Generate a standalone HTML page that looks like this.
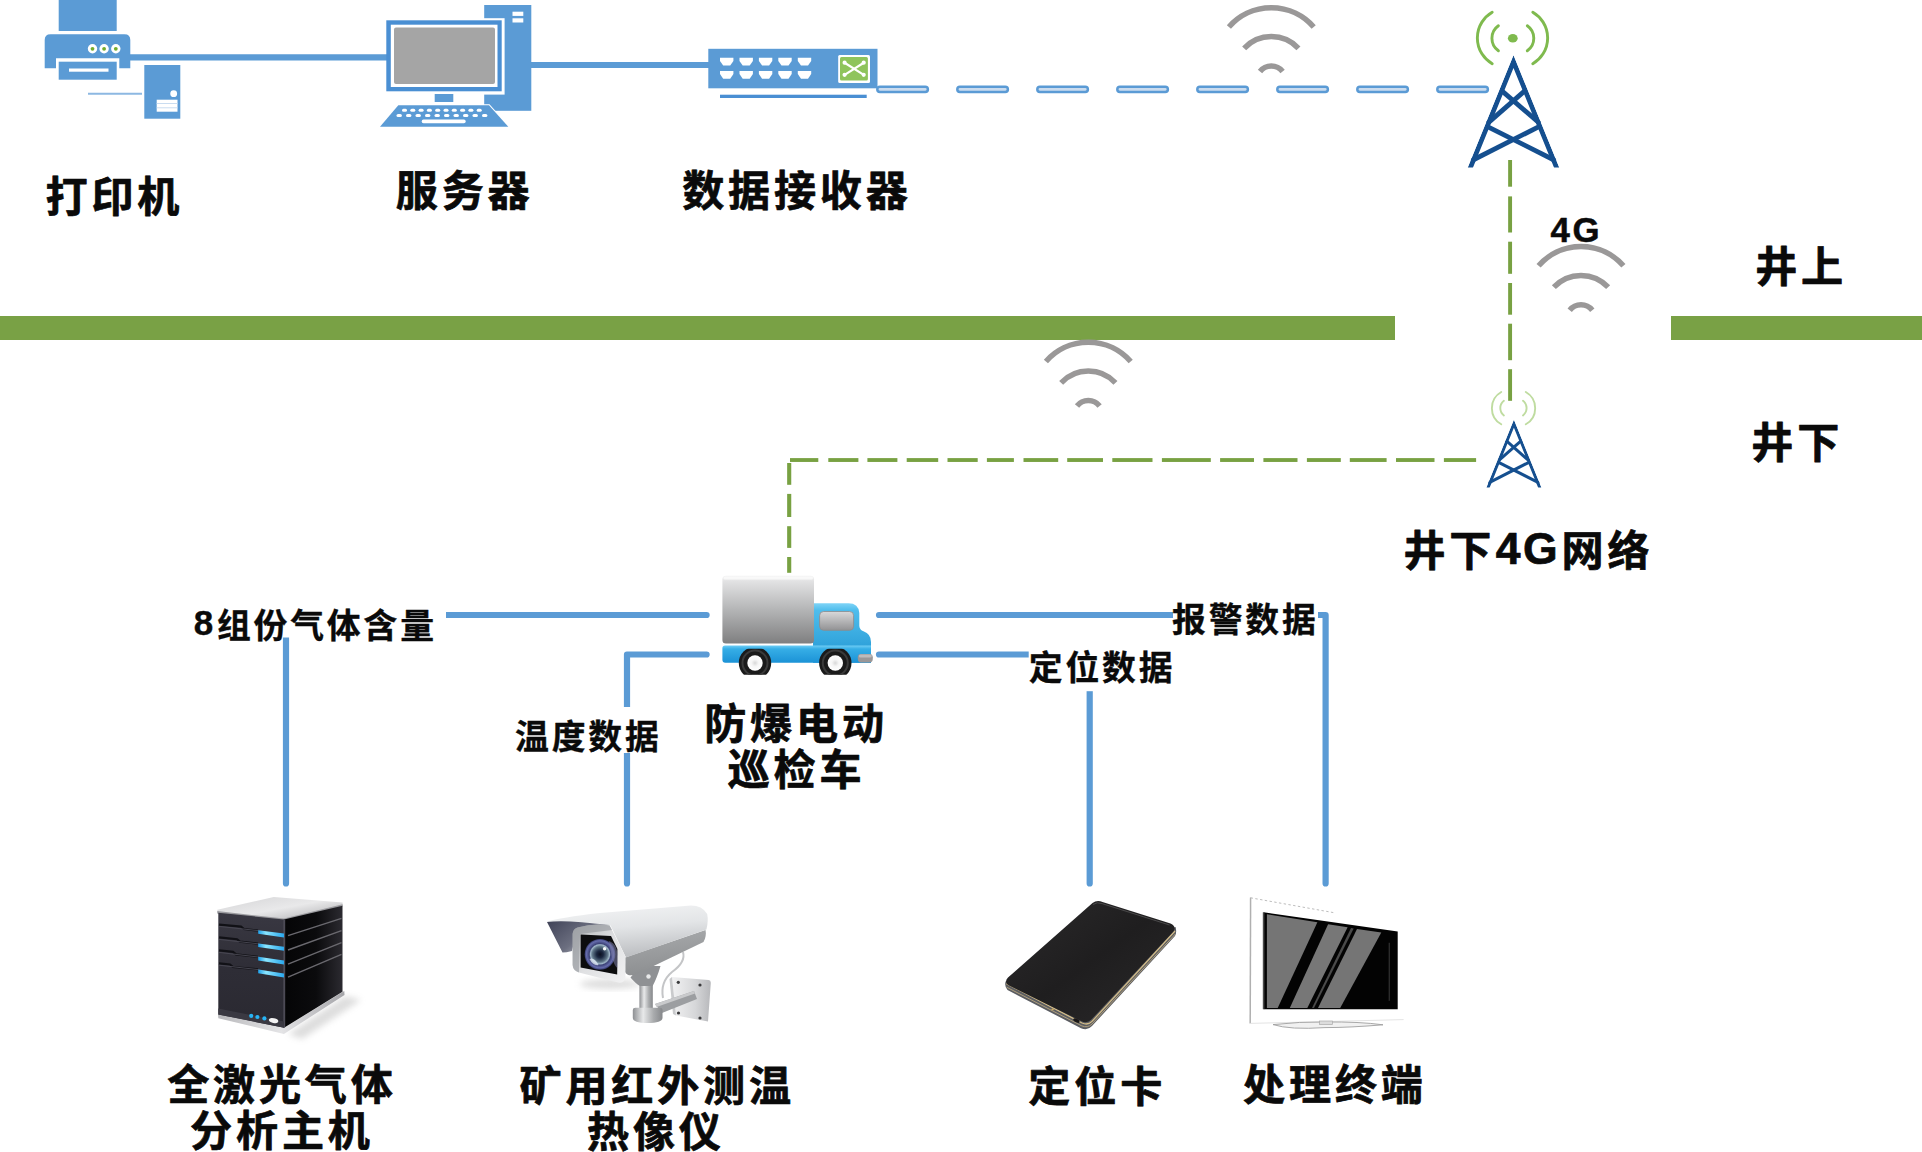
<!DOCTYPE html>
<html lang="zh">
<head>
<meta charset="utf-8">
<title>系统拓扑图</title>
<style>
html,body{margin:0;padding:0;background:#fff;}
body{width:1922px;height:1152px;overflow:hidden;position:relative;font-family:"Liberation Sans","Noto Sans CJK SC",sans-serif;}
svg{position:absolute;left:0;top:0;}
.t{font-family:"Liberation Sans","Noto Sans CJK SC",sans-serif;font-weight:700;fill:#0a0a0a;stroke:#0a0a0a;stroke-width:0.7px;stroke-linejoin:round;}
.big{font-size:42.1px;}
.mid{font-size:33.8px;stroke-width:0.35px;}
.g4{font-size:34.8px;stroke-width:0.5px;}
</style>
</head>
<body>
<svg width="1922" height="1152" viewBox="0 0 1922 1152">
<defs>
<linearGradient id="gBox" x1="0" y1="0" x2="0" y2="1">
<stop offset="0" stop-color="#f4f4f4"/><stop offset="0.08" stop-color="#e2e2e3"/><stop offset="0.5" stop-color="#b4b5b6"/><stop offset="1" stop-color="#7f7f80"/>
</linearGradient>
<linearGradient id="gCab" x1="0" y1="0" x2="0" y2="1">
<stop offset="0" stop-color="#7fd4f7"/><stop offset="0.12" stop-color="#4fbdec"/><stop offset="0.6" stop-color="#36a8de"/><stop offset="1" stop-color="#1f93d2"/>
</linearGradient>
<linearGradient id="gChassis" x1="0" y1="0" x2="0" y2="1">
<stop offset="0" stop-color="#6fcdf5"/><stop offset="0.2" stop-color="#36aee6"/><stop offset="1" stop-color="#1b92d6"/>
</linearGradient>
<linearGradient id="gWin" x1="0" y1="0" x2="0" y2="1">
<stop offset="0" stop-color="#d9d9da"/><stop offset="1" stop-color="#929294"/>
</linearGradient>
<radialGradient id="gHub" cx="0.5" cy="0.5" r="0.5">
<stop offset="0" stop-color="#d8d8d8"/><stop offset="0.45" stop-color="#f6f6f6"/><stop offset="1" stop-color="#ffffff"/>
</radialGradient>
<clipPath id="clipWheel"><rect x="700" y="648.8" width="200" height="26"/></clipPath>
<filter id="blur1" x="-20%" y="-20%" width="140%" height="140%"><feGaussianBlur stdDeviation="1.2"/></filter>
<filter id="blur2" x="-30%" y="-30%" width="160%" height="160%"><feGaussianBlur stdDeviation="3"/></filter>
<filter id="blur05" x="-10%" y="-10%" width="120%" height="120%"><feGaussianBlur stdDeviation="0.5"/></filter>
<linearGradient id="gSrvTop" x1="0" y1="0" x2="1" y2="1">
<stop offset="0" stop-color="#d4d4d6"/><stop offset="0.5" stop-color="#e9e9ea"/><stop offset="1" stop-color="#a9a9ac"/>
</linearGradient>
<linearGradient id="gSrvFront" x1="0" y1="0" x2="0" y2="1">
<stop offset="0" stop-color="#393842"/><stop offset="0.5" stop-color="#2e2d36"/><stop offset="1" stop-color="#2a2931"/>
</linearGradient>
<linearGradient id="gSrvSide" x1="0" y1="0" x2="1" y2="0">
<stop offset="0" stop-color="#050506"/><stop offset="0.55" stop-color="#0b0b0d"/><stop offset="1" stop-color="#2b2a30"/>
</linearGradient>
<linearGradient id="gLed" x1="0" y1="0" x2="1" y2="0">
<stop offset="0" stop-color="#1e9fe8"/><stop offset="0.3" stop-color="#8be6ff"/><stop offset="1" stop-color="#2aa8ee"/>
</linearGradient>
<linearGradient id="gSrvBase" x1="0" y1="0" x2="1" y2="0">
<stop offset="0" stop-color="#b9b9bc"/><stop offset="0.5" stop-color="#e4e4e6"/><stop offset="1" stop-color="#a4a4a8"/>
</linearGradient>
<linearGradient id="gCamTop" x1="0" y1="0" x2="0.25" y2="1">
<stop offset="0" stop-color="#f4f5f6"/><stop offset="0.5" stop-color="#e3e5e7"/><stop offset="1" stop-color="#bfc1c4"/>
</linearGradient>
<linearGradient id="gCamLow" x1="0" y1="0" x2="0.2" y2="1">
<stop offset="0" stop-color="#a9abad"/><stop offset="1" stop-color="#8d8f91"/>
</linearGradient>
<linearGradient id="gCamVisor" x1="0" y1="0" x2="1" y2="0.6">
<stop offset="0" stop-color="#3f4257"/><stop offset="0.6" stop-color="#6c6f80"/><stop offset="1" stop-color="#b9bbc2"/>
</linearGradient>
<linearGradient id="gCamFace" x1="0" y1="0" x2="1" y2="1">
<stop offset="0" stop-color="#b3b5b8"/><stop offset="0.5" stop-color="#dfe0e2"/><stop offset="1" stop-color="#f2f2f3"/>
</linearGradient>
<radialGradient id="gLens" cx="0.5" cy="0.5" r="0.5">
<stop offset="0" stop-color="#0b1020"/><stop offset="0.22" stop-color="#1b2740"/><stop offset="0.5" stop-color="#5f7688"/><stop offset="0.62" stop-color="#9fb6c8"/><stop offset="0.7" stop-color="#3d4378"/><stop offset="0.88" stop-color="#666cad"/><stop offset="1" stop-color="#34396c"/>
</radialGradient>
<linearGradient id="gPole" x1="0" y1="0" x2="1" y2="0">
<stop offset="0" stop-color="#8e9093"/><stop offset="0.35" stop-color="#e8e9ea"/><stop offset="0.7" stop-color="#a9abad"/><stop offset="1" stop-color="#86888b"/>
</linearGradient>
<linearGradient id="gPlate" x1="0" y1="0" x2="1" y2="0">
<stop offset="0" stop-color="#f1f1f2"/><stop offset="0.6" stop-color="#d6d7d9"/><stop offset="1" stop-color="#b7b8bb"/>
</linearGradient>
<linearGradient id="gCard" x1="0" y1="0" x2="1" y2="1">
<stop offset="0" stop-color="#2b2a2b"/><stop offset="0.5" stop-color="#1f1e1f"/><stop offset="1" stop-color="#2a292a"/>
</linearGradient>
<clipPath id="clipScreen"><path d="M1263.6 912.3 L1397.7 931.5 L1397.7 1009.2 L1263.6 1009.2 Z"/></clipPath>

</defs>
<!-- green divider -->
<g id="divider">
<rect x="0" y="316" width="1395" height="24" fill="#79a145"/>
<rect x="1671" y="316" width="251" height="24" fill="#79a145"/>
</g>
<g stroke="#5b9bd5" stroke-width="6.2" fill="none" stroke-linecap="butt">
<path d="M129 57.3 H388"/>
<path d="M530 65 H710"/>
</g>
<path d="M88 93.7 H142" stroke="#8db8e2" stroke-width="2" fill="none"/>
<g fill="#cbdcef" stroke="#5b9bd5" stroke-width="2.5">
<rect x="877.3" y="86.65" width="50.6" height="5.3" rx="2.65" ry="2.65"/>
<rect x="957.3" y="86.65" width="50.6" height="5.3" rx="2.65" ry="2.65"/>
<rect x="1037.3" y="86.65" width="50.6" height="5.3" rx="2.65" ry="2.65"/>
<rect x="1117.3" y="86.65" width="50.6" height="5.3" rx="2.65" ry="2.65"/>
<rect x="1197.3" y="86.65" width="50.6" height="5.3" rx="2.65" ry="2.65"/>
<rect x="1277.3" y="86.65" width="50.6" height="5.3" rx="2.65" ry="2.65"/>
<rect x="1357.3" y="86.65" width="50.6" height="5.3" rx="2.65" ry="2.65"/>
<rect x="1437.3" y="86.65" width="50.6" height="5.3" rx="2.65" ry="2.65"/>
</g>
<g stroke="#5b9bd5" stroke-width="6.2" fill="none" stroke-linecap="round" stroke-linejoin="round">
<path d="M706.6 615 H286 V883.4"/>
<path d="M706.6 654.5 H627 V883.4"/>
<path d="M879 615 H1325.6 V883.4"/>
<path d="M879 654.5 H1089.7 V883.4"/>
</g>
<g fill="#78a142">
<rect x="1508.15" y="160" width="3.9" height="26.7"/>
<rect x="1508.15" y="196.4" width="3.9" height="36.1"/>
<rect x="1508.15" y="241.7" width="3.9" height="32.1"/>
<rect x="1508.15" y="283" width="3.9" height="31.7"/>
<rect x="1508.15" y="323.7" width="3.9" height="36.5"/>
<rect x="1508.15" y="369.2" width="3.9" height="31.6"/>
<rect x="790.0" y="458.1" width="28.3" height="3.85"/>
<rect x="828.3" y="458.1" width="30.1" height="3.85"/>
<rect x="867.4" y="458.1" width="30.0" height="3.85"/>
<rect x="906.7" y="458.1" width="31.5" height="3.85"/>
<rect x="947.5" y="458.1" width="30.2" height="3.85"/>
<rect x="986.9" y="458.1" width="27.0" height="3.85"/>
<rect x="1023.5" y="458.1" width="34.7" height="3.85"/>
<rect x="1067.2" y="458.1" width="35.8" height="3.85"/>
<rect x="1112.3" y="458.1" width="40.2" height="3.85"/>
<rect x="1161.9" y="458.1" width="48.9" height="3.85"/>
<rect x="1220.1" y="458.1" width="33.9" height="3.85"/>
<rect x="1263.4" y="458.1" width="34.1" height="3.85"/>
<rect x="1306.9" y="458.1" width="33.9" height="3.85"/>
<rect x="1349.8" y="458.1" width="36.8" height="3.85"/>
<rect x="1396" y="458.1" width="38.5" height="3.85"/>
<rect x="1443.9" y="458.1" width="32.2" height="3.85"/>
<rect x="787.15" y="463" width="4.1" height="21.8"/>
<rect x="787.15" y="493.9" width="4.1" height="23.1"/>
<rect x="787.15" y="526.2" width="4.1" height="21.7"/>
<rect x="787.15" y="557" width="4.1" height="15.8"/>
</g>
<!-- printer -->
<g id="printer" fill="#5b9bd5">
<rect x="58.7" y="-2" width="58" height="33"/>
<path d="M44.7 68.3 V40 Q44.7 34.2 50.5 34.2 H124.5 Q130.3 34.2 130.3 40 V68.3 H119.3 V58.3 H56 V68.3 Z"/>
<rect x="58.7" y="61.7" width="58" height="18"/>
<rect x="69" y="68.5" width="39.5" height="3.2" fill="#fff"/>
<circle cx="92.5" cy="48.8" r="4.7" fill="#fff"/>
<circle cx="104.1" cy="48.8" r="4.7" fill="#fff"/>
<circle cx="115.8" cy="48.8" r="4.7" fill="#fff"/>
<circle cx="92.5" cy="48.8" r="1.9" fill="#74ac2a"/>
<circle cx="104.1" cy="48.8" r="1.9" fill="#74ac2a"/>
<circle cx="115.8" cy="48.8" r="1.9" fill="#74ac2a"/>
</g>
<!-- small tower pc -->
<g id="minipc">
<rect x="144.3" y="65" width="36" height="53.7" fill="#5b9bd5"/>
<circle cx="173.7" cy="93.7" r="3.4" fill="#fff"/>
<rect x="156.7" y="99.7" width="20.8" height="12" fill="#fff"/>
<rect x="156.7" y="103" width="20.8" height="1" fill="#c9dcf0"/>
<rect x="156.7" y="107.3" width="20.8" height="1" fill="#c9dcf0"/>
</g>
<!-- desktop computer -->
<g id="computer">
<rect x="484.2" y="5" width="47.1" height="105.8" fill="#5b9bd5"/>
<rect x="512.5" y="11.7" width="10.8" height="4.2" fill="#fff"/>
<rect x="512.5" y="18.3" width="10.8" height="4.2" fill="#fff"/>
<rect x="480" y="18.2" width="24.6" height="76.4" fill="#fff"/>
<rect x="386.3" y="20.3" width="115.4" height="71" fill="#4a8fd3"/>
<rect x="390.8" y="24.7" width="106.7" height="62.3" fill="#fff"/>
<rect x="394" y="27.5" width="101" height="56.5" rx="2" fill="#a5a5a5"/>
<rect x="434.7" y="94" width="18.6" height="8" fill="#5b9bd5"/>
<path d="M398.3 105.3 H489 L508.3 126.7 H380 Z" fill="#5b9bd5" stroke="#fff" stroke-width="2.2" paint-order="stroke"/>
<g fill="#fff">
<rect x="402" y="108.7" width="5" height="3" rx="1.5"/><rect x="410.3" y="108.7" width="5" height="3" rx="1.5"/><rect x="418.6" y="108.7" width="5" height="3" rx="1.5"/><rect x="426.9" y="108.7" width="5" height="3" rx="1.5"/><rect x="435.2" y="108.7" width="5" height="3" rx="1.5"/><rect x="443.5" y="108.7" width="5" height="3" rx="1.5"/><rect x="451.8" y="108.7" width="5" height="3" rx="1.5"/><rect x="460.1" y="108.7" width="5" height="3" rx="1.5"/><rect x="468.4" y="108.7" width="5" height="3" rx="1.5"/><rect x="476.7" y="108.7" width="5" height="3" rx="1.5"/>
<rect x="396.5" y="113.9" width="5.4" height="3.2" rx="1.6"/><rect x="406" y="113.9" width="5.4" height="3.2" rx="1.6"/><rect x="415.5" y="113.9" width="5.4" height="3.2" rx="1.6"/><rect x="425" y="113.9" width="5.4" height="3.2" rx="1.6"/><rect x="434.5" y="113.9" width="5.4" height="3.2" rx="1.6"/><rect x="444" y="113.9" width="5.4" height="3.2" rx="1.6"/><rect x="453.5" y="113.9" width="5.4" height="3.2" rx="1.6"/><rect x="463" y="113.9" width="5.4" height="3.2" rx="1.6"/><rect x="472.5" y="113.9" width="5.4" height="3.2" rx="1.6"/><rect x="482" y="113.9" width="5.4" height="3.2" rx="1.6"/>
<rect x="421.7" y="119.6" width="44" height="3.6" rx="1.8"/>
</g>
</g>
<!-- switch / data receiver -->
<g id="switch">
<rect x="708.3" y="48.8" width="169.2" height="39.5" fill="#5b9bd5"/>
<rect x="720" y="94.7" width="146.7" height="3.3" fill="#4a8fd3"/>
<g fill="#fff" id="ports">
<path d="M720 57.8 h13.4 v3.2 l-3.2 4.6 h-7 l-3.2 -4.6 z"/>
<path d="M739.5 57.8 h13.4 v3.2 l-3.2 4.6 h-7 l-3.2 -4.6 z"/>
<path d="M758.9 57.8 h13.4 v3.2 l-3.2 4.6 h-7 l-3.2 -4.6 z"/>
<path d="M778.3 57.8 h13.4 v3.2 l-3.2 4.6 h-7 l-3.2 -4.6 z"/>
<path d="M797.8 57.8 h13.4 v3.2 l-3.2 4.6 h-7 l-3.2 -4.6 z"/>
<path d="M720 70.9 h13.4 v3.2 l-3.2 4.6 h-7 l-3.2 -4.6 z"/>
<path d="M739.5 70.9 h13.4 v3.2 l-3.2 4.6 h-7 l-3.2 -4.6 z"/>
<path d="M758.9 70.9 h13.4 v3.2 l-3.2 4.6 h-7 l-3.2 -4.6 z"/>
<path d="M778.3 70.9 h13.4 v3.2 l-3.2 4.6 h-7 l-3.2 -4.6 z"/>
<path d="M797.8 70.9 h13.4 v3.2 l-3.2 4.6 h-7 l-3.2 -4.6 z"/>
</g>
<rect x="838.2" y="54.9" width="31.8" height="28" rx="1.5" fill="#fff"/>
<rect x="840" y="57" width="27.9" height="23.6" rx="1.5" fill="#8fc45c"/>
<g stroke="#fff" stroke-width="2.2" stroke-linecap="round" fill="none">
<path d="M845 63 L863.4 74.6"/><path d="M863.4 63 L845 74.6"/>
</g>
<g fill="#fff">
<circle cx="844.6" cy="62.7" r="2.1"/><circle cx="863.7" cy="62.7" r="2.1"/><circle cx="844.6" cy="74.8" r="2.1"/><circle cx="863.7" cy="74.8" r="2.1"/>
</g>
</g>

<g transform="translate(1271.3 7.8)" fill="none" stroke="#9a9898" stroke-width="5.5" stroke-linecap="butt"><path d="M-42.4 19.2 A56.4 56.4 0 0 1 42.4 19.2"/><path d="M-27.15 40.6 A37.1 37.1 0 0 1 27.15 40.6"/><path d="M-11.3 63.7 A14.4 14.4 0 0 1 11.3 63.7"/></g>
<g transform="translate(1581 246.6)" fill="none" stroke="#9a9898" stroke-width="5.5" stroke-linecap="butt"><path d="M-42.4 19.2 A56.4 56.4 0 0 1 42.4 19.2"/><path d="M-27.15 40.6 A37.1 37.1 0 0 1 27.15 40.6"/><path d="M-11.3 63.7 A14.4 14.4 0 0 1 11.3 63.7"/></g>
<g transform="translate(1088.3 342.3)" fill="none" stroke="#9a9898" stroke-width="5.5" stroke-linecap="butt"><path d="M-42.4 19.2 A56.4 56.4 0 0 1 42.4 19.2"/><path d="M-27.15 40.6 A37.1 37.1 0 0 1 27.15 40.6"/><path d="M-11.3 63.7 A14.4 14.4 0 0 1 11.3 63.7"/></g>
<!-- big tower -->
<clipPath id="clipBig"><path d="M1513.5 54.9 L1467.7 167.6 L1559.3 167.6 Z"/></clipPath>
<clipPath id="clipSmall"><path d="M1513.9 419.6 L1486.3 487.6 L1541.5 487.6 Z"/></clipPath>
<g id="bigtower">
<g fill="none" stroke="#7fba4e" stroke-width="2.9" stroke-linecap="round">
<path d="M1498.4 25.8 A15.3 15.3 0 0 0 1498.4 50.8"/>
<path d="M1527.3 25.8 A15.3 15.3 0 0 1 1527.3 50.8"/>
<path d="M1492.2 12.2 A29.8 29.8 0 0 0 1492.2 63.75"/>
<path d="M1532.8 12.2 A29.8 29.8 0 0 1 1532.8 63.75"/>
</g>
<ellipse cx="1512.8" cy="38.3" rx="4.9" ry="4.3" fill="#7fba4e"/>
<g fill="none" stroke="#154f8f" stroke-width="4.8" stroke-linecap="butt" stroke-linejoin="miter" stroke-miterlimit="10" clip-path="url(#clipBig)">
<path d="M1467.35 175 L1513.5 61.6 L1559.65 175"/>
<path d="M1501.6 90.6 L1539.8 123.4"/>
<path d="M1525 90.6 L1487.5 123.4"/>
<path d="M1487.5 126.6 L1556 161"/>
<path d="M1539 126.6 L1471 161"/>
</g>
</g>
<!-- small tower -->
<g id="smalltower">
<g fill="none" stroke="#bfdca0" stroke-width="1.9" stroke-linecap="round">
<path d="M1503.9 400.8 A9.2 9.2 0 0 0 1503.9 415.4"/>
<path d="M1523 400.8 A9.2 9.2 0 0 1 1523 415.4"/>
<path d="M1501.25 392 A18.6 18.6 0 0 0 1501.25 424.3"/>
<path d="M1525.8 392 A18.6 18.6 0 0 1 1525.8 424.3"/>
</g>
<g fill="none" stroke="#154f8f" stroke-width="3" stroke-linecap="butt" stroke-linejoin="miter" stroke-miterlimit="10" clip-path="url(#clipSmall)">
<path d="M1485.05 495 L1513.9 423.7 L1542.75 495"/>
<path d="M1505.9 440.4 L1528.9 460.7"/>
<path d="M1521.6 440.4 L1498.6 460.7"/>
<path d="M1498.6 462.3 L1539.5 483.2"/>
<path d="M1528.9 462.3 L1488.2 483.2"/>
</g>
</g>

<!-- truck -->
<g id="truck">
<!-- cab -->
<path d="M813 603.2 H848.5 Q858.6 603.2 859.3 613 V626 Q859.6 630 863.5 631.3 Q871 634 871 642 V662.8 H813 Z" fill="url(#gCab)"/>
<!-- chassis -->
<path d="M722.4 648 Q722.4 645.5 725 645.5 H871 V662.8 H725.4 Q722.4 662.8 722.4 659.8 Z" fill="url(#gChassis)"/>
<!-- box -->
<rect x="722.4" y="575.8" width="91.6" height="67.7" rx="3.5" fill="url(#gBox)"/>
<rect x="723.4" y="576.6" width="89.6" height="3" rx="1.5" fill="#fafafa" opacity="0.9"/>
<!-- window -->
<rect x="819.6" y="611.5" width="34" height="18.8" rx="4" fill="url(#gWin)" stroke="#8e8a8c" stroke-width="0.8"/>
<!-- bumper -->
<rect x="857.8" y="653.9" width="15" height="8.6" rx="3.4" fill="#9a9798"/>
<rect x="858.8" y="654.5" width="13" height="3" rx="1.5" fill="#bdbbbc"/>
<!-- wheels -->
<g clip-path="url(#clipWheel)">
<circle cx="755" cy="663" r="16.2" fill="#1a1a1a"/>
<circle cx="835.3" cy="663" r="16.2" fill="#1a1a1a"/>
<circle cx="755" cy="663" r="12.5" fill="none" stroke="#3a3a3a" stroke-width="2"/>
<circle cx="835.3" cy="663" r="12.5" fill="none" stroke="#3a3a3a" stroke-width="2"/>
<circle cx="755" cy="663" r="7.7" fill="url(#gHub)"/>
<circle cx="835.3" cy="663" r="7.7" fill="url(#gHub)"/>
</g>
</g>

<!-- gas analyzer host (server box) -->
<g id="serverbox">
<!-- shadow -->
<path d="M288 1034 L345 996 L361 1000 L302 1039 Z" fill="#9a9a9a" opacity="0.33" filter="url(#blur2)"/>
<!-- base plate -->
<path d="M218 1014 L218.3 1018.2 L283.9 1034 L344.5 995 L344.3 991 L283.9 1028 Z" fill="url(#gSrvBase)"/>
<!-- top face -->
<path d="M217.3 909.7 L273.75 897 L342.6 902.6 L342.6 906 L284 920 L217.3 913.5 Z" fill="url(#gSrvTop)"/>
<path d="M217.3 911 L284 918.6 L342.6 904.2 L342.6 906.2 L284 920.6 L217.3 913.5 Z" fill="#9b9b9f"/>
<!-- front face -->
<path d="M218.3 912.8 L284 919.4 L284 1027.8 L218.3 1014.4 Z" fill="url(#gSrvFront)"/>
<!-- side face -->
<path d="M284 919.4 L342.5 905.8 L342.5 991.7 L284 1027.8 Z" fill="url(#gSrvSide)"/>
<path d="M283.3 919.4 L285.2 919.4 L285.2 1027.2 L283.3 1027.8 Z" fill="#4c4a55"/>
<!-- front slot grooves -->
<g stroke="#111116" stroke-width="2.2" fill="none">
<path d="M219 924.6 L241 926.6 L244 929 L258 930.5"/>
<path d="M219 937.4 L237 939.2 L240 941.6 L258 943.6"/>
<path d="M219 950.4 L233 951.8 L236 954.4 L258 956.8"/>
<path d="M219 963.4 L230 964.5 L233 967 L258 969.4"/>
</g>
<g stroke="#4b4a55" stroke-width="1" fill="none" opacity="0.9">
<path d="M219 926.4 L258 930.6 L284 935.6"/>
<path d="M219 939.4 L258 943.8 L284 948.8"/>
<path d="M219 952.4 L258 957 L284 962"/>
<path d="M219 965.2 L258 969.6 L284 974.8"/>
</g>
<!-- blue leds -->
<g>
<path d="M258.2 930.2 L284 933.6 L284 937.6 L258.2 933.8 Z" fill="url(#gLed)"/>
<path d="M258.2 943.4 L284 946.8 L284 950.8 L258.2 947 Z" fill="url(#gLed)"/>
<path d="M258.2 956.8 L284 960.4 L284 964.4 L258.2 960.4 Z" fill="url(#gLed)"/>
<path d="M258.2 969.6 L284 973.6 L284 977.6 L258.2 973.2 Z" fill="url(#gLed)"/>
</g>
<!-- side lines -->
<g stroke="#6a696f" stroke-width="1.4" fill="none">
<path d="M288 935.6 L341.5 918.4"/>
<path d="M288 950 L341.5 930.6"/>
<path d="M288 964.2 L341.5 942.6"/>
<path d="M288 977.2 L341.5 954.4"/>
</g>
<!-- bottom strip + leds -->
<path d="M218.3 1008.6 L284 1021.6 L284 1027.8 L218.3 1014.4 Z" fill="#3a3942"/>
<circle cx="251.2" cy="1015.8" r="2.1" fill="#27b4f5"/>
<circle cx="257.4" cy="1017" r="2.1" fill="#27b4f5"/>
<circle cx="264.4" cy="1018.4" r="2.1" fill="#27b4f5"/>
<ellipse cx="273.6" cy="1020.6" rx="4.8" ry="2.4" transform="rotate(12 273.6 1020.6)" fill="#f2f2f2"/>
</g>
<!-- infrared camera -->
<g id="camera">
<!-- soft shadow -->
<ellipse cx="610" cy="984" rx="30" ry="5" fill="#bdbdbd" opacity="0.5" filter="url(#blur2)"/>
<!-- wall plate -->
<path d="M672 977 L708.5 980 Q711 980.4 710.8 983 L708 1021.5 L676 1015.5 Z" fill="url(#gPlate)"/>
<path d="M672 977 L676 1015.5 L673 1014 L669.5 979 Z" fill="#c9cacc"/>
<circle cx="678.3" cy="982.3" r="1.6" fill="#3a3a3c"/><circle cx="700" cy="985" r="1.6" fill="#3a3a3c"/>
<circle cx="678.5" cy="1013" r="1.6" fill="#3a3a3c"/><circle cx="700" cy="1018" r="1.6" fill="#3a3a3c"/>
<!-- cable -->
<path d="M683 952 Q686 962 672 972 Q660 982 663 998" fill="none" stroke="#c4c5c7" stroke-width="2"/>
<!-- arm -->
<path d="M655 1004 L694 991 L697 999 L662 1013 Z" fill="#9c9ea1"/>
<path d="M655 1004 L694 991 L695 993.6 L656.5 1007 Z" fill="#c9cacc"/>
<!-- pole -->
<rect x="639.4" y="976" width="13.4" height="36" fill="url(#gPole)"/>
<path d="M632.8 1010 Q632.8 1007.5 636 1007.8 H659 Q662.5 1007.6 662.5 1010 V1018 Q662 1023 647.6 1023 Q633.2 1023 632.8 1018 Z" fill="url(#gPole)"/>
<!-- joint under body -->
<path d="M630.5 977.5 Q636 984 640 986 L652.6 986 Q657 978 660.5 966 L640 966 Z" fill="#8f9194"/>
<circle cx="648.5" cy="976.5" r="2.2" fill="#e8e9ea"/>
<!-- lower body -->
<path d="M625 957.5 L705.5 930 Q706.8 936 703.5 942 L637 974 Q628 977.5 625 972 Z" fill="url(#gCamLow)"/>
<!-- top housing -->
<path d="M547.2 921.5 Q560 917.5 600 913 L691 905.6 Q702 905.6 707.2 914 Q708.6 921 706.4 929.5 L626 957.6 Q620 945 610.5 925.5 Q585 920 548.5 923.5 Z" fill="url(#gCamTop)"/>
<!-- visor underside -->
<path d="M547 922 Q565 919.5 609.4 925 L577 930.5 L572 951 Q566 952.5 562.5 952.5 Z" fill="url(#gCamVisor)"/>
<!-- front face frame -->
<path d="M577.5 927.6 Q594 923 609.6 925.4 Q618 941 625.6 957 L625.4 978 Q624 983.5 618 982.6 L579 972.6 Q573 970.6 572.6 965 L572.6 934 Q573 929 577.5 927.6 Z" fill="url(#gCamFace)"/>
<path d="M577.5 927.6 Q594 923 609.6 925.4 L612 930 L580 934 L579 972.6 Q573 970.6 572.6 965 L572.6 934 Q573 929 577.5 927.6 Z" fill="#8d8f96" opacity="0.55"/>
<!-- black window -->
<path d="M580.6 934.6 L611 936 L617.4 949 L617.2 974.4 L580.6 967.4 Z" fill="#0d0d0f"/>
<!-- lens -->
<circle cx="600" cy="954.3" r="15.4" fill="url(#gLens)"/>
<path d="M609 941 Q618 944 617.4 958 L617.3 968 Q612 964 609 941 Z" fill="#7d7fa8" opacity="0.55"/>
<circle cx="604.6" cy="948.8" r="1.7" fill="#ffffff" opacity="0.95"/>
<path d="M589.5 959 Q594 957 598.6 965 Q593 966 589.5 959 Z" fill="#dfeaf4" opacity="0.8"/>
</g>
<!-- locator card -->
<g id="card">
<path d="M1005.6 981.5 Q1004.2 986.5 1007.5 990 L1081 1028.2 Q1087.6 1031 1092 1026 L1175 936 Q1177 932.5 1175.6 927 L1005.6 981.5 Z" fill="#5b5d62"/>
<path d="M1006.6 987.2 L1081.6 1025.8 Q1087.8 1028.4 1092 1024 L1175.4 934" fill="none" stroke="#c9b384" stroke-width="0.9" opacity="0.85"/>
<path d="M1006.4 983.6 L1082 1023 Q1088 1025.6 1092 1021.4 L1175 931" fill="none" stroke="#d8c089" stroke-width="1.3" opacity="0.95"/>
<path d="M1092.5 903 Q1097 899.6 1102.5 902 L1170.5 923.5 Q1177 926.5 1173.4 931.6 L1091.4 1019.6 Q1087 1024 1081 1021 L1009 985.6 Q1003.6 982 1008 977.6 Z" fill="url(#gCard)"/>
<path d="M1093 904.5 Q1097 901.6 1102 903.6 L1169.5 925" fill="none" stroke="#4a494a" stroke-width="1"/>
<ellipse cx="1076.4" cy="1020.6" rx="3.4" ry="1.7" transform="rotate(27 1076.4 1020.6)" fill="#1a1716"/>
<ellipse cx="1052.6" cy="1009.4" rx="1.3" ry="0.9" fill="#caa860"/>
</g>
<!-- processing terminal (monitor) -->
<g id="terminal">
<path d="M1250.6 897.6 L1250.2 1023.4" stroke="#b0b0b0" stroke-width="1.5" fill="none"/>
<path d="M1250.6 897.8 L1333.5 912.6" stroke="#bdbdbd" stroke-width="1" stroke-dasharray="2.4 2.4" fill="none"/>
<path d="M1250.2 1023.4 L1403.6 1019.6" stroke="#e4e4e4" stroke-width="1" fill="none"/>
<path d="M1263.6 912.3 L1397.7 931.5 L1397.7 1009.2 L1263.6 1009.2 Z" fill="#030303"/>
<g>
<path d="M1266.9 914.2 L1317.4 922.2 L1277.7 1008 L1266.9 1008 Z" fill="#757575"/>
<path d="M1328.1 924.2 L1347.6 927.2 L1307.3 1008 L1289.8 1008 Z" fill="#777777"/>
<path d="M1351 928 L1353.7 928.4 L1314 1008 L1312 1008 Z" fill="#4a4a4a"/>
<path d="M1357 929 L1381.3 932.4 L1340.2 1008 L1318 1008 Z" fill="#757575"/>
<path d="M1388.6 942.8 L1390 942.8 L1390 1000.7 L1388.6 1000.7 Z" fill="#2b2b2b"/>
</g>
<path d="M1263.6 912.3 L1263.6 1009.2" stroke="#4a4a4a" stroke-width="1.6" fill="none"/>
<!-- stand -->
<path d="M1273 1024.6 Q1300 1021.6 1325 1022 Q1360 1021.6 1383 1024.8 Q1350 1027.6 1325 1027.6 Q1290 1030 1273 1024.6 Z" fill="#f1f1f1" stroke="#9f9f9f" stroke-width="0.9"/>
<rect x="1319.5" y="1021" width="13" height="3.4" fill="#dcdcdc" stroke="#aaaaaa" stroke-width="0.7"/>
</g>

<text class="t big" x="114.40" y="212" text-anchor="middle" letter-spacing="3.8" >打印机</text>
<text class="t big" x="464.65" y="206" text-anchor="middle" letter-spacing="3.8" >服务器</text>
<text class="t big" x="796.90" y="206" text-anchor="middle" letter-spacing="3.8" >数据接收器</text>
<text class="t big" x="1801.10" y="282" text-anchor="middle" letter-spacing="3.8" >井上</text>
<text class="t big" x="1797.20" y="458" text-anchor="middle" letter-spacing="3.8" >井下</text>
<text class="t big" x="1528.40" y="566" text-anchor="middle" letter-spacing="3.8" >井下<tspan font-size="44.5" letter-spacing="2.4" dx="0.6" dy="-1.8">4G</tspan><tspan dy="1.8" dx="1.5">网络</tspan></text>
<text class="t big" x="796.00" y="739" text-anchor="middle" letter-spacing="3.8" >防爆电动</text>
<text class="t big" x="796.50" y="785" text-anchor="middle" letter-spacing="3.8" >巡检车</text>
<text class="t big" x="281.90" y="1100" text-anchor="middle" letter-spacing="3.8" >全激光气体</text>
<text class="t big" x="281.90" y="1146" text-anchor="middle" letter-spacing="3.8" >分析主机</text>
<text class="t big" x="657.20" y="1101" text-anchor="middle" letter-spacing="3.8" >矿用红外测温</text>
<text class="t big" x="655.90" y="1147" text-anchor="middle" letter-spacing="3.8" >热像仪</text>
<text class="t big" x="1097.20" y="1101.5" text-anchor="middle" letter-spacing="3.8" >定位卡</text>
<text class="t big" x="1334.90" y="1099.5" text-anchor="middle" letter-spacing="3.8" >处理终端</text>
<text class="t g4" x="1576.4" y="241.9" text-anchor="middle" letter-spacing="2.6" >4G</text>
<rect x="190" y="600" width="256" height="37.5" fill="#fff"/>
<text class="t mid" x="315.30" y="638" text-anchor="middle" letter-spacing="2.85" ><tspan dy="-3" font-size="35">8</tspan><tspan dx="0.8" dy="3">组份气体含量</tspan></text>
<rect x="510" y="707" width="155" height="46" fill="#fff"/>
<text class="t mid" x="588.30" y="748.5" text-anchor="middle" letter-spacing="2.85" >温度数据</text>
<rect x="1173" y="600" width="145" height="38" fill="#fff"/>
<text class="t mid" x="1245.30" y="632" text-anchor="middle" letter-spacing="2.85" >报警数据</text>
<rect x="1028.7" y="650.6" width="146" height="40.6" fill="#fff"/>
<text class="t mid" x="1102.10" y="679.7" text-anchor="middle" letter-spacing="2.85" >定位数据</text>
</svg>
</body>
</html>
